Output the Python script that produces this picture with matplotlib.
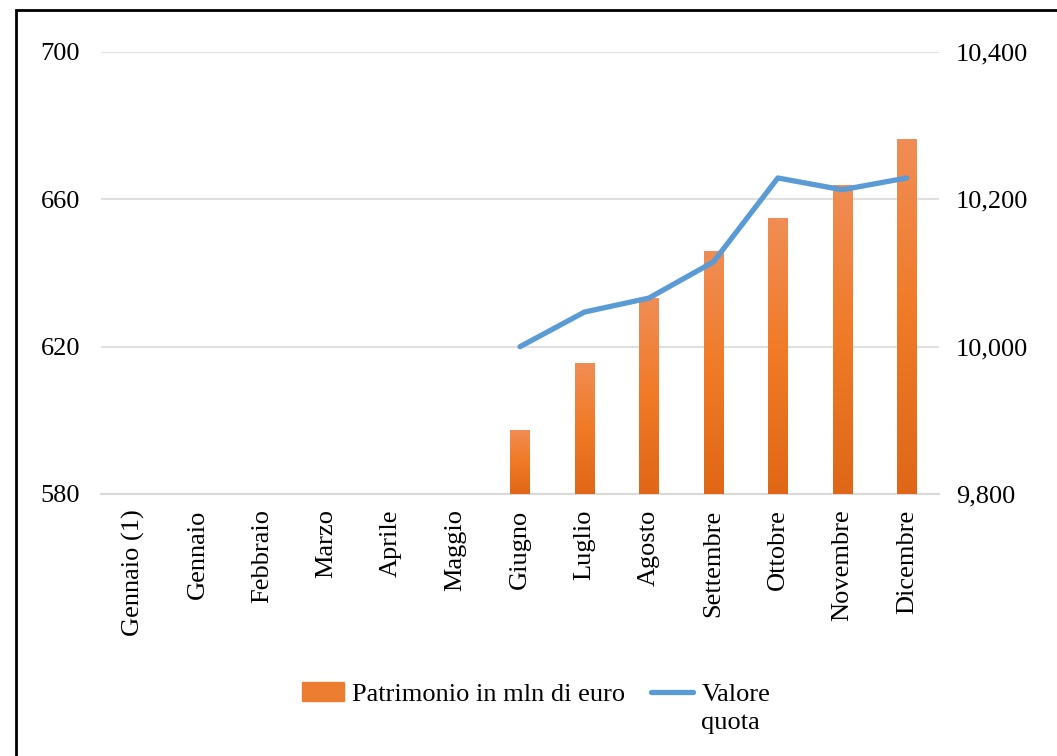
import numpy as np
import matplotlib
matplotlib.use("Agg")
import matplotlib.pyplot as plt
from matplotlib.patches import Rectangle
from matplotlib.lines import Line2D
from matplotlib.ticker import FuncFormatter

# data
mesi = ["Gennaio (1)", "Gennaio", "Febbraio", "Marzo", "Aprile", "Maggio",
        "Giugno", "Luglio", "Agosto", "Settembre", "Ottobre", "Novembre", "Dicembre"]
patrimonio = [np.nan, np.nan, np.nan, np.nan, np.nan, np.nan,
              597.4, 615.5, 633.1, 646.1, 654.8, 663.9, 676.4]
valore_quota = [np.nan, np.nan, np.nan, np.nan, np.nan, np.nan,
                10000, 10047, 10066, 10115, 10229, 10213, 10229]

plt.rcParams["font.family"] = ["Liberation Serif", "DejaVu Serif"]
FS = 19
W, H = 1057, 756

fig = plt.figure(figsize=(W / 100, H / 100), dpi=100)
ax = fig.add_axes([101 / W, 1 - 494 / H, (939 - 101) / W, (494 - 52) / H])
ax2 = ax.twinx()

x = np.arange(len(mesi))

# bars with vertical gradient
bars = ax.bar(x, patrimonio, width=0.3, bottom=0, color="#ED7D31", zorder=2)
grad = np.linspace(0, 1, 256).reshape(-1, 1)
cmap = matplotlib.colors.LinearSegmentedColormap.from_list("og", ["#DF6717", "#F07A26", "#F08D55"])
for b, v in zip(bars, patrimonio):
    if np.isnan(v):
        continue
    x0, w = b.get_x(), b.get_width()
    im = ax.imshow(grad, extent=[x0, x0 + w, 580, v], origin="lower", cmap=cmap,
                   aspect="auto", zorder=3)
    im.set_clip_path(b)

ax.set_xlim(-0.5, len(mesi) - 0.5)
ax.set_ylim(580, 700)
ax.set_yticks([580, 620, 660, 700])
ax.grid(axis="y", color="#D9D9D9", lw=1.2, zorder=0)
ax.set_axisbelow(True)
ax.set_xticks(x)
ax.set_xticklabels(mesi, rotation=90, fontsize=FS)
ax.tick_params(length=0, labelsize=FS)
ax.tick_params(axis="y", pad=15)
ax.tick_params(axis="x", pad=11)
for s in ax.spines.values():
    s.set_visible(False)
ax.spines["bottom"].set_visible(True)
ax.spines["bottom"].set_color("#D9D9D9")
ax.spines["bottom"].set_linewidth(1.5)

ax2.plot(x, valore_quota, color="#5B9BD5", lw=3.8, solid_capstyle="round",
         solid_joinstyle="round", zorder=5)
ax2.set_ylim(9800, 10400)
ax2.set_yticks([9800, 10000, 10200, 10400])
ax2.yaxis.set_major_formatter(FuncFormatter(lambda v, p: f"{int(v):,}"))
ax2.tick_params(length=0, labelsize=FS, pad=12)
for s in ax2.spines.values():
    s.set_visible(False)

# outer frame
fig.patches.append(Rectangle((16 / W, -0.1), 1.2, 1 - 10 / H + 0.1,
                             transform=fig.transFigure, fill=False,
                             edgecolor="black", lw=2))

handles = [Rectangle((0, 0), 1, 1, color="#ED7D31"),
           Line2D([], [], color="#5B9BD5", lw=3.8, solid_capstyle="round")]
leg = fig.legend(handles, ["Patrimonio in mln di euro", "Valore"],
                 loc="center", bbox_to_anchor=(0.507, 1 - 694 / H), ncol=2,
                 frameon=False, fontsize=FS, handlelength=1.6, handletextpad=0.3,
                 columnspacing=1.0)

# second line of the "Valore quota" label
fig.canvas.draw()
bb = leg.get_texts()[1].get_window_extent()
fig.text(bb.x0 / W, (bb.y0 - 6) / H, "quota", fontsize=FS, ha="left", va="top")

fig.savefig("out.png", dpi=100)
